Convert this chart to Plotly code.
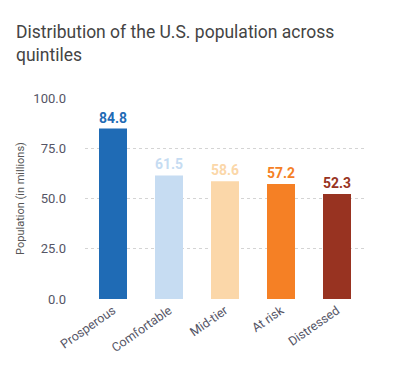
import plotly.graph_objects as go

categories = ["Prosperous", "Comfortable", "Mid-tier", "At risk", "Distressed"]
values = [84.8, 61.5, 58.6, 57.2, 52.3]
colors = ["#1f6bb5", "#c6dcf2", "#fbd7a9", "#f58025", "#983321"]
tick_vals = [0, 25, 50, 75, 100]
tick_text = ["0.0", "25.0", "50.0", "75.0", "100.0"]

W, H = 398, 367

fig = go.Figure(go.Bar(
    x=categories, y=values,
    marker=dict(color=colors, line=dict(width=0)),
    text=[f"{v:.1f}" for v in values],
    textposition="outside",
    textfont=dict(color=colors, size=14, family="Roboto", weight="bold"),
    cliponaxis=False,
))

fig.update_layout(
    width=W, height=H,
    margin=dict(l=77, r=41, t=89, b=75),
    paper_bgcolor="white", plot_bgcolor="white",
    bargap=0.5,
    showlegend=False,
    title=dict(
        text="Distribution of the U.S. population across<br>quintiles",
        x=8/W, xref="container", xanchor="left",
        y=1-30/H, yref="container", yanchor="top",
        font=dict(size=17.5, color="#444444", family="Roboto"),
    ),
    font=dict(family="Roboto", color="#555555"),
)

fig.update_yaxes(
    range=[-0.5, 100.5], tickvals=tick_vals, ticktext=tick_text,
    showgrid=True, gridcolor="#d4d4d4", griddash="dot", gridwidth=1,
    zeroline=False, showline=False, automargin=False,
    tickfont=dict(size=13, color="#555566"),
    ticks="", ticklen=0, ticklabelstandoff=18,
    title=dict(text="Population (in millions)", font=dict(size=11, color="#555555"), standoff=6),
)
fig.update_xaxes(
    tickangle=-35, tickfont=dict(size=12.5, color="#555566"),
    showline=False, showgrid=False, ticks="", automargin=False,
)

fig.write_html("out.html")
